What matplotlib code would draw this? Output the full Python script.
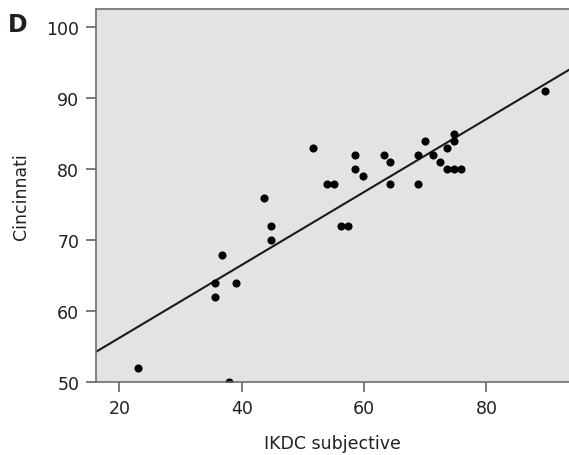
import numpy as np
import matplotlib.pyplot as plt

# IKDC subjective vs Cincinnati scores
ikdc = [23.0, 37.9, 35.6, 35.6, 36.8, 39.0, 43.6, 44.8, 44.8,
        51.6, 54.0, 55.1, 56.3, 57.4, 58.6, 58.6, 59.8, 63.2, 64.3,
        64.3, 68.9, 68.9, 70.0, 71.2, 72.4, 73.5, 73.5, 74.7, 75.8,
        74.7, 74.7, 89.6]
cincinnati = [52, 50, 64, 62, 68, 64, 76, 72, 70,
              83, 78, 78, 72, 72, 82, 80, 79, 82, 81,
              78, 78, 82, 84, 82, 81, 83, 80, 80, 80,
              84, 85, 91]

# fitted line
intercept = 45.97
slope = 0.514

x_ticks = [20, 40, 60, 80]
y_ticks = [50, 60, 70, 80, 90, 100]

txt = '#231f20'
plt.rcParams['font.family'] = 'DejaVu Sans'

fig = plt.figure(figsize=(5.69, 4.56), dpi=100)
ax = fig.add_axes([96/569, 1 - 383.3/456, 473/569, 373.3/456])
ax.set_facecolor('#e3e3e3')

# points on the lower edge get cut by the axes box
ax.scatter(ikdc, cincinnati, s=34, color='black', zorder=3, linewidths=0)

xl = np.array([16.2, 93.5])
ax.plot(xl, intercept + slope * xl, color='#1a1a1a', lw=1.5, zorder=2)

ax.set_xlim(16.2, 93.5)
ax.set_ylim(50, 102.6)
ax.set_xticks(x_ticks)
ax.set_yticks(y_ticks)

for side in ['left', 'bottom', 'top']:
    ax.spines[side].set_color('#6e6e6e')
    ax.spines[side].set_linewidth(1.2)
    ax.spines[side].set_zorder(4)
ax.spines['right'].set_visible(False)

ax.tick_params(axis='both', direction='out', length=7, width=1.1,
               color='#555555', labelsize=12.5, labelcolor=txt, pad=5)

ax.set_xlabel('IKDC subjective', fontsize=12.5, color=txt, labelpad=12)
ax.set_ylabel('Cincinnati', fontsize=12.5, color=txt, labelpad=12)

fig.text(18/569, 1 - 25/456, 'D', fontsize=17, fontweight='bold',
         color=txt, ha='center', va='center')

fig.savefig('out.png', dpi=100)
